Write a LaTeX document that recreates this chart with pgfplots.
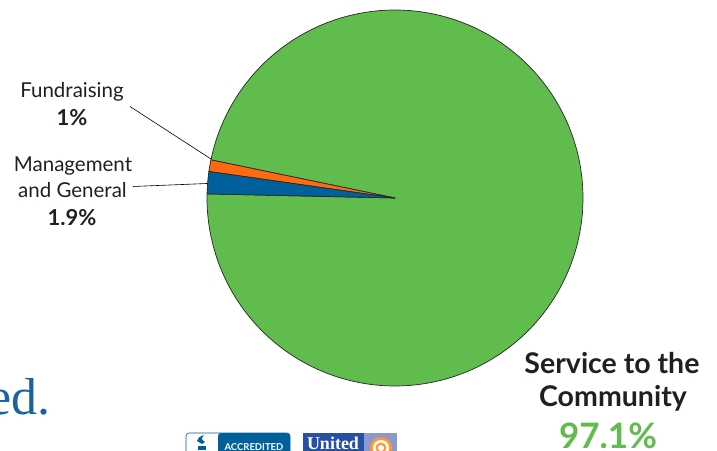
\documentclass[border=0pt]{standalone}
\usepackage{pgfplots}
\pgfplotsset{compat=1.18}
\usepackage{fontspec}
\setmainfont{Lato}
\newfontfamily\serifed{Liberation Serif}

\definecolor{pieGreen}{HTML}{5FBC4D}
\definecolor{pieOrange}{HTML}{FF6A10}
\definecolor{pieBlue}{HTML}{00609C}
\definecolor{txtDark}{HTML}{231F20}
\definecolor{edBlue}{HTML}{1D62A0}
\definecolor{bbbBlue}{HTML}{00619A}
\definecolor{uwBlue}{HTML}{2650A6}
\definecolor{uwGrey}{HTML}{8C9ACB}

% shares in percent, drawn counterclockwise from the start angle
\pgfmathsetmacro{\startang}{168.3}
\pgfmathsetmacro{\pFund}{1.0}
\pgfmathsetmacro{\pMgmt}{1.9}
\pgfmathsetmacro{\pServ}{97.1}
\pgfmathsetmacro{\aA}{\startang}
\pgfmathsetmacro{\aB}{\aA+3.6*\pFund}
\pgfmathsetmacro{\aC}{\aB+3.6*\pMgmt}
\pgfmathsetmacro{\aD}{\aC+3.6*\pServ}

\begin{document}
\begin{tikzpicture}
\useasboundingbox (0,0) rectangle (717pt,450pt);
\clip (0,0) rectangle (717pt,450pt);
\begin{axis}[
    scale only axis, width=717pt, height=450pt,
    xmin=0, xmax=717, ymin=0, ymax=450,
    hide axis, clip=false,
    every axis plot/.append style={draw=black!85, line width=0.7pt, line join=round}
]
% pie slices (centre 395,252; radius 188)
\addplot[fill=pieGreen, domain=\aC:\aD, samples=240] ({395+188*cos(x)},{252+188*sin(x)}) -- (axis cs:395,252) -- cycle;
\addplot[fill=pieOrange, domain=\aA:\aB, samples=8] ({395+188*cos(x)},{252+188*sin(x)}) -- (axis cs:395,252) -- cycle;
\addplot[fill=pieBlue, domain=\aB:\aC, samples=12] ({395+188*cos(x)},{252+188*sin(x)}) -- (axis cs:395,252) -- cycle;

% leader lines
\draw[black, line width=0.6pt] (axis cs:130,343.5) -- (axis cs:211,291);
\draw[black, line width=0.6pt] (axis cs:133,263.5) -- (axis cs:207,266.5);

% labels
\node[anchor=base, text=txtDark, font=\fontsize{20.5}{22}\selectfont] at (axis cs:72,352.7) {Fundraising};
\node[anchor=base, text=txtDark, font=\fontsize{22}{24}\selectfont\bfseries] at (axis cs:72,324.3) {1\%};
\node[anchor=base, text=txtDark, font=\fontsize{20.5}{22}\selectfont] at (axis cs:73,278.3) {Management};
\node[anchor=base, text=txtDark, font=\fontsize{20.5}{22}\selectfont] at (axis cs:72.5,252.3) {and General};
\node[anchor=base, text=txtDark, font=\fontsize{22}{24}\selectfont\bfseries] at (axis cs:72,224.3) {1.9\%};

\node[anchor=base, text=txtDark, font=\fontsize{28.5}{30}\selectfont\bfseries] at (axis cs:612,76) {Service to the};
\node[anchor=base, text=txtDark, font=\fontsize{28.5}{30}\selectfont\bfseries] at (axis cs:613,44) {Community};
\node[anchor=base, text=pieGreen, font=\fontsize{35}{38}\selectfont\bfseries] at (axis cs:608,2) {97.1\%};

% page surroundings
\node[anchor=base east, inner sep=0pt, text=edBlue, font=\serifed\fontsize{52}{56}\selectfont] at (axis cs:51,36) {ed.};
\fill[white, draw=bbbBlue, line width=0.6pt, rounded corners=3pt] (axis cs:186,-5) rectangle (axis cs:290,17);
\fill[bbbBlue, rounded corners=3pt] (axis cs:218,-5) rectangle (axis cs:290,17);
\fill[bbbBlue] (axis cs:198,0) rectangle (axis cs:206,4);
\fill[bbbBlue] (axis cs:202,6) -- (axis cs:197,9) .. controls (axis cs:199,13) .. (axis cs:204,15) .. controls (axis cs:201,11) .. (axis cs:205,8) -- cycle;
\node[anchor=base, text=white, font=\fontsize{9.5}{10}\selectfont\bfseries] at (axis cs:254,0) {ACCREDITED};
\fill[uwBlue] (axis cs:303,-5) rectangle (axis cs:364,17);
\fill[uwGrey] (axis cs:364,-5) rectangle (axis cs:397,17);
\fill[orange!80] (axis cs:381,2) circle[radius=11pt];
\fill[white] (axis cs:381,2) circle[radius=8pt];
\fill[orange!80] (axis cs:381,2) circle[radius=5.5pt];
\fill[white] (axis cs:381,2) circle[radius=3pt];
\node[anchor=base, text=white, font=\serifed\fontsize{18}{18}\selectfont\bfseries] at (axis cs:333,1) {United};
\end{axis}
\end{tikzpicture}
\end{document}
